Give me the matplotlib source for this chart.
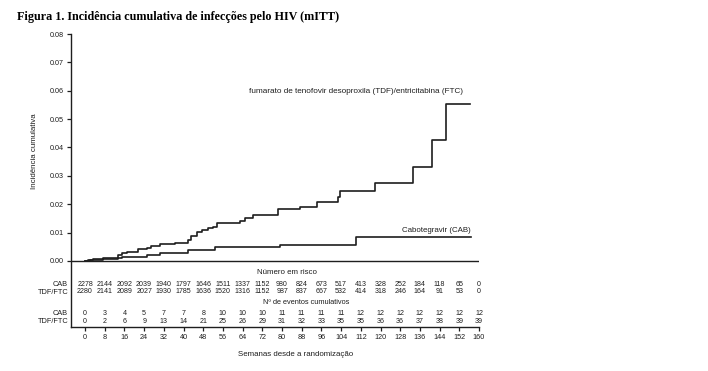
import matplotlib.pyplot as plt

# curvas (semanas, incidencia cumulativa)
tdf_weeks = [0, 1.3, 3.4, 7.4, 13.5, 14.9, 16.9, 21.7, 25, 26.7, 30.5, 36.5, 42, 43,
             45.4, 47.4, 50, 52, 53.5, 63, 65, 68.3, 78.4, 87.3, 94.2, 102.7, 103.5,
             117.8, 133.2, 140.9, 146.6, 156.3]
tdf_inc = [0, 0.00035, 0.0007, 0.00095, 0.0021, 0.0027, 0.0033, 0.0041, 0.0047, 0.0054,
           0.006, 0.0064, 0.0074, 0.0088, 0.0102, 0.0109, 0.0116, 0.0121, 0.0134, 0.0141,
           0.0153, 0.0163, 0.0182, 0.0192, 0.0208, 0.0226, 0.0247, 0.0275, 0.0331, 0.0426,
           0.0553, 0.0553]
cab_weeks = [0, 2, 7.4, 13.5, 15, 16.2, 25, 30.5, 42, 52.8, 79.2, 110, 156.8]
cab_inc = [0, 0.00035, 0.0006, 0.00095, 0.0013, 0.0015, 0.0021, 0.0027, 0.0038, 0.0049,
           0.0056, 0.0085, 0.0085]

weeks = list(range(0, 161, 8))
risk_cab = [2278, 2144, 2092, 2039, 1940, 1797, 1646, 1511, 1337, 1152, 980, 824, 673,
            517, 413, 328, 252, 184, 118, 65, 0]
risk_tdf = [2280, 2141, 2089, 2027, 1930, 1785, 1636, 1520, 1316, 1152, 987, 837, 667,
            532, 414, 318, 246, 164, 91, 53, 0]
events_cab = [0, 3, 4, 5, 7, 7, 8, 10, 10, 10, 11, 11, 11, 11, 12, 12, 12, 12, 12, 12, 12]
events_tdf = [0, 2, 6, 9, 13, 14, 21, 25, 26, 29, 31, 32, 33, 35, 35, 36, 36, 37, 38, 39, 39]

ink = "#1e1e1e"
plt.rcParams["font.family"] = ["Liberation Sans", "DejaVu Sans"]

fig = plt.figure(figsize=(7.08, 3.71), dpi=100)
ax = fig.add_axes([71 / 708, 1 - 327 / 371, (479 - 71) / 708, (327 - 34) / 371])

ax.plot(tdf_weeks, tdf_inc, drawstyle="steps-post", color=ink, lw=1.2)
ax.plot(cab_weeks, cab_inc, drawstyle="steps-post", color=ink, lw=1.2)
ax.axhline(0, color=ink, lw=1.0)

ax.set_xlim(-5.7, 160)
ax.set_ylim(-0.02326, 0.08)
ax.set_yticks([i / 100 for i in range(9)])
ax.set_yticklabels([f"{i / 100:.2f}" for i in range(9)])
ax.set_xticks(weeks)
ax.set_xticklabels([str(w) for w in weeks])
ax.tick_params(axis="both", direction="out", length=3, width=0.9, colors=ink,
               labelsize=5.2, pad=2)
for s in ["top", "right"]:
    ax.spines[s].set_visible(False)
for s in ["left", "bottom"]:
    ax.spines[s].set_color(ink)
    ax.spines[s].set_linewidth(1.0)

ax.text(153.5, 0.0599, "fumarato de tenofovir desoproxila (TDF)/entricitabina (FTC)",
        ha="right", va="center", fontsize=5.9, color=ink)
ax.text(156.8, 0.0107, "Cabotegravir (CAB)", ha="right", va="center", fontsize=5.7, color=ink)

# tabela de risco dentro dos eixos
def py(y):
    return (261 - y) * 0.08 / 227

ax.text(82, py(272.7), "Número em risco", ha="center", va="center", fontsize=5.7, color=ink)
ax.text(90, py(302.7), "Nº de eventos cumulativos", ha="center", va="center", fontsize=5.3, color=ink)
rows = [(risk_cab, py(284.3), "CAB"), (risk_tdf, py(292.0), "TDF/FTC"),
        (events_cab, py(313.7), "CAB"), (events_tdf, py(321.5), "TDF/FTC")]
for vals, yy, lab in rows:
    for w, v in zip(weeks, vals):
        ax.text(w, yy, str(v), ha="center", va="center", fontsize=5.1, color=ink)
    fig.text(68 / 708, 1 - (261 - yy * 227 / 0.08) / 371, lab, ha="right", va="center",
             fontsize=5.3, color=ink)

ax.set_ylabel("Incidência cumulativa", fontsize=5.7, color=ink)
ax.yaxis.set_label_coords(-0.08, 0.6)
fig.text(296 / 708, 1 - 354 / 371, "Semanas desde a randomização", ha="center", va="center",
         fontsize=5.7, color=ink)

fig.text(17 / 708, 1 - 17 / 371, "Figura 1. Incidência cumulativa de infecções pelo HIV (mITT)",
         ha="left", va="center", fontsize=8.7, fontweight="bold", family="Liberation Serif",
         color="black")

fig.savefig("out.png", dpi=100)
